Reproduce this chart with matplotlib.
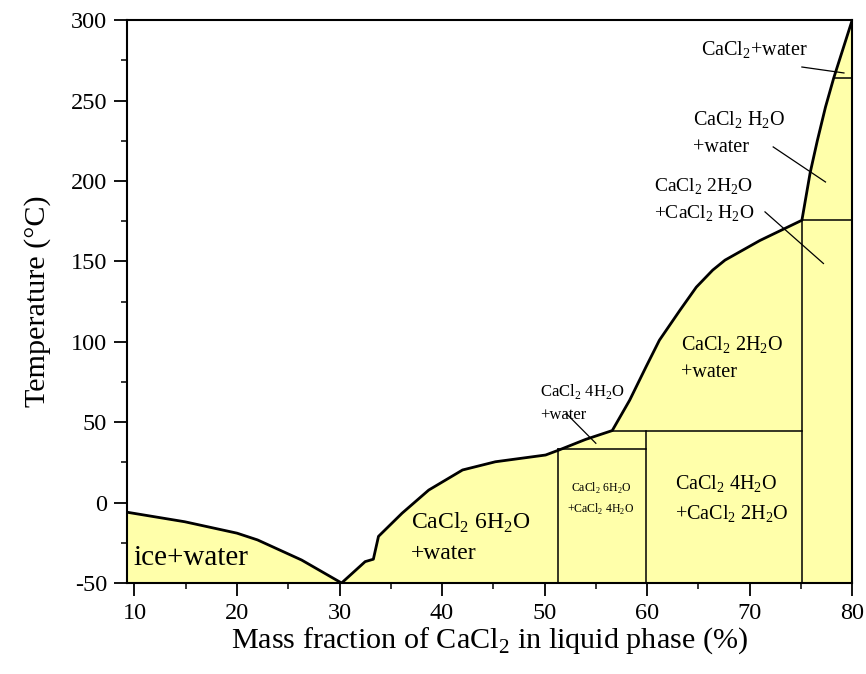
import numpy as np
import matplotlib
matplotlib.use("Agg")
import matplotlib.pyplot as plt
from matplotlib.ticker import MultipleLocator

plt.rcParams['font.family'] = ['Liberation Serif', 'DejaVu Serif']
plt.rcParams['mathtext.fontset'] = 'custom'
plt.rcParams['mathtext.rm'] = 'Liberation Serif'
plt.rcParams['axes.unicode_minus'] = False

# liquidus curve (mass %, deg C)
liq_x = [9.3, 14.9, 20.0, 22.0, 26.3, 30.2, 32.5, 33.3, 33.8, 36.1, 38.7, 42.0, 45.2,
         50.1, 51.4, 54.0, 56.6, 58.3, 59.9, 61.2, 63.2, 64.8, 66.4, 67.6, 71.0, 75.1,
         75.9, 76.6, 77.4, 78.2, 80.0]
liq_t = [-6.0, -11.9, -19.0, -23.2, -35.7, -50.0, -36.7, -35.2, -21.0, -6.6, 7.8, 20.3, 25.4,
         29.6, 32.7, 39.3, 44.8, 63.7, 84.5, 101.0, 119.6, 134.0, 144.6, 150.8, 163.0, 175.6,
         205.0, 225.0, 246.0, 264.0, 300.0]

# phase boundaries: (x0, x1, t0, t1)
bounds = [
    (51.3, 51.3, -50, 33.1),
    (51.3, 59.9, 33.1, 33.1),
    (59.9, 59.9, -50, 44.8),
    (56.6, 75.1, 44.8, 44.8),
    (75.1, 75.1, -50, 175.6),
    (75.1, 80.0, 175.6, 175.6),
    (78.2, 80.0, 264.0, 264.0),
]

S = r'$_{\mathregular{2}}$'
# region labels: text, x, y, size, ha
labels = [
    ('ice+water', 9.9, -34.5, 21, 'left'),
    ('CaCl' + S + ' 6H' + S + 'O\n+water', 37.0, -21.5, 17, 'left'),
    ('CaCl' + S + ' 6H' + S + 'O\n+CaCl' + S + ' 4H' + S + 'O', 55.5, 2.3, 8.5, 'center'),
    ('CaCl' + S + ' 4H' + S + 'O\n+CaCl' + S + ' 2H' + S + 'O', 62.7, 2.1, 14.5, 'left'),
    ('CaCl' + S + ' 2H' + S + 'O\n+water', 63.3, 89.7, 14.5, 'left'),
    ('CaCl' + S + ' 4H' + S + 'O\n+water', 49.6, 62.2, 12, 'left'),
    ('CaCl' + S + ' 2H' + S + 'O\n+CaCl' + S + ' H' + S + 'O', 60.7, 188.0, 14, 'left'),
    ('CaCl' + S + ' H' + S + 'O\n+water', 64.5, 229.5, 14.5, 'left'),
    ('CaCl' + S + '+water', 65.3, 281.3, 14.5, 'left'),
]
# leader lines: (x0, y0, x1, y1)
leaders = [
    (52.1, 55.5, 55.0, 36.9),
    (71.5, 180.8, 77.2, 148.7),
    (72.3, 221.2, 77.4, 199.4),
    (75.1, 270.9, 79.2, 267.2),
]

fig = plt.figure(figsize=(8.66, 6.74), dpi=100)
ax = fig.add_axes([0.147, 0.135, 0.837, 0.835])

ax.fill_between(liq_x, -50, liq_t, color='#ffffaa', lw=0)
ax.plot(liq_x, liq_t, color='black', lw=2)
for x0, x1, t0, t1 in bounds:
    ax.plot([x0, x1], [t0, t1], color='black', lw=1.1)
for x0, y0, x1, y1 in leaders:
    ax.plot([x0, x1], [y0, y1], color='black', lw=0.9)
for txt, x, y, fs, ha in labels:
    ax.text(x, y, txt, fontsize=fs, ha=ha, va='center', linespacing=1.5)

ax.set_xlim(9.3, 80)
ax.set_ylim(-50, 300)
ax.xaxis.set_major_locator(MultipleLocator(10))
ax.xaxis.set_minor_locator(MultipleLocator(5))
ax.yaxis.set_major_locator(MultipleLocator(50))
ax.yaxis.set_minor_locator(MultipleLocator(25))
ax.tick_params(which='major', direction='out', length=9.5, width=1.3, labelsize=17.5, pad=5)
ax.tick_params(which='minor', direction='out', length=4.5, width=1.1)
for sp in ax.spines.values():
    sp.set_linewidth(1.5)

ax.set_xlabel('Mass fraction of CaCl' + S + ' in liquid phase (%)', fontsize=21.7, labelpad=1)
ax.set_ylabel('Temperature (°C)', fontsize=21.7, labelpad=14)

fig.savefig('out.png', dpi=100)
